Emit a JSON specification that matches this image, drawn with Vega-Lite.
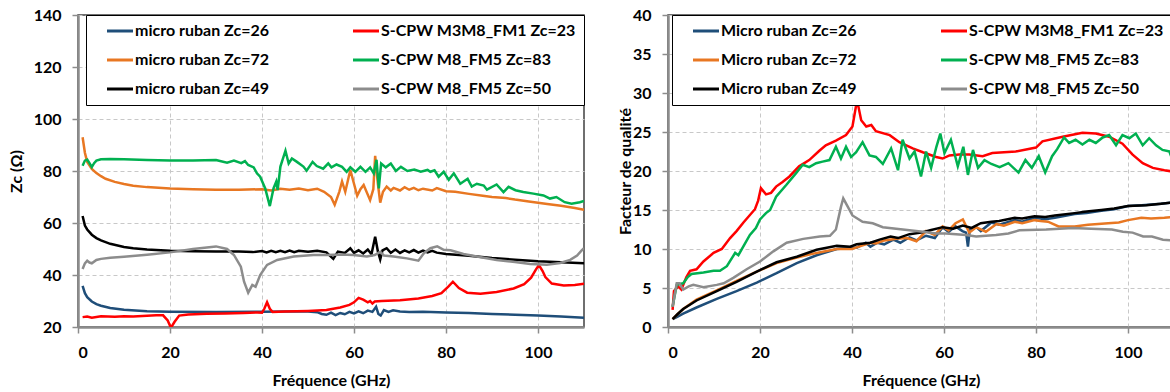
{
  "$schema": "https://vega.github.io/schema/vega-lite/v6.json",
  "padding": {"left": 7, "top": 6, "right": 0, "bottom": 0},
  "background": "white",
  "config": {
    "font": "Lato",
    "view": {"stroke": "#404040", "strokeWidth": 1.5},
    "concat": {"spacing": 30},
    "axis": {
      "labelFont": "Lato", "labelFontWeight": "bold", "labelFontSize": 16, "labelColor": "black",
      "titleFont": "Lato", "titleFontWeight": "bold", "titleFontSize": 16, "titleColor": "black",
      "domainColor": "#8c8c8c", "domainWidth": 2.5, "tickColor": "#8c8c8c", "tickWidth": 1.5, "tickSize": 6,
      "gridColor": "#c8c8c8", "gridDash": [4, 3], "gridWidth": 1, "labelPadding": 11
    },
    "legend": {
      "orient": "none", "columns": 2, "symbolType": "M-4,0L4,0", "symbolSize": 42.25, "symbolStrokeWidth": 3,
      "labelFont": "Lato", "labelFontSize": 16, "labelFontWeight": "bold", "labelColor": "black",
      "strokeColor": "black", "fillColor": "white", "padding": 8, "rowPadding": 13, "columnPadding": 71,
      "symbolOffset": 18, "labelOffset": 7, "labelLimit": 400
    }
  },
  "datasets": {
    "namesL": [
      {"k": "b", "s": "micro ruban Zc=26"}, {"k": "o", "s": "micro ruban Zc=72"}, {"k": "k", "s": "micro ruban Zc=49"},
      {"k": "r", "s": "S-CPW M3M8_FM1 Zc=23"}, {"k": "g", "s": "S-CPW M8_FM5 Zc=83"}, {"k": "y", "s": "S-CPW M8_FM5 Zc=50"}
    ],
    "namesR": [
      {"k": "b", "s": "Micro ruban Zc=26"}, {"k": "o", "s": "Micro ruban Zc=72"}, {"k": "k", "s": "Micro ruban Zc=49"},
      {"k": "r", "s": "S-CPW M3M8_FM1 Zc=23"}, {"k": "g", "s": "S-CPW M8_FM5 Zc=83"}, {"k": "y", "s": "S-CPW M8_FM5 Zc=50"}
    ],
    "left": [
      {"k":"b","f":1,"v":35.8},{"k":"b","f":1.5,"v":33},{"k":"b","f":2,"v":31.5},{"k":"b","f":3,"v":29.8},{"k":"b","f":4,"v":28.8},{"k":"b","f":5,"v":28.2},{"k":"b","f":7,"v":27.3},{"k":"b","f":10,"v":26.6},{"k":"b","f":15,"v":26.1},{"k":"b","f":20,"v":25.9},{"k":"b","f":30,"v":25.8},{"k":"b","f":40,"v":25.9},{"k":"b","f":45,"v":26},{"k":"b","f":50,"v":26},{"k":"b","f":52,"v":25.7},{"k":"b","f":53,"v":25},{"k":"b","f":54,"v":24.7},{"k":"b","f":55,"v":25.5},{"k":"b","f":56,"v":24.6},{"k":"b","f":57,"v":25.4},{"k":"b","f":58,"v":24.9},{"k":"b","f":59,"v":25.8},{"k":"b","f":60,"v":25.2},{"k":"b","f":61,"v":26},{"k":"b","f":62,"v":25.3},{"k":"b","f":63,"v":26.3},{"k":"b","f":64,"v":25.8},{"k":"b","f":64.8,"v":27.8},{"k":"b","f":65.3,"v":25},{"k":"b","f":65.8,"v":24.4},{"k":"b","f":66.5,"v":26.5},{"k":"b","f":67.5,"v":25.8},{"k":"b","f":68.5,"v":26.4},{"k":"b","f":70,"v":26},{"k":"b","f":72,"v":25.8},{"k":"b","f":75,"v":25.9},{"k":"b","f":80,"v":25.6},{"k":"b","f":85,"v":25.4},{"k":"b","f":90,"v":25},{"k":"b","f":95,"v":24.7},{"k":"b","f":100,"v":24.4},{"k":"b","f":105,"v":24},{"k":"b","f":110,"v":23.6},
      {"k":"o","f":1,"v":93},{"k":"o","f":1.5,"v":87},{"k":"o","f":2,"v":83.5},{"k":"o","f":3,"v":80.8},{"k":"o","f":4,"v":79.2},{"k":"o","f":5,"v":78},{"k":"o","f":6,"v":77},{"k":"o","f":8,"v":75.8},{"k":"o","f":10,"v":75},{"k":"o","f":12,"v":74.3},{"k":"o","f":15,"v":73.8},{"k":"o","f":20,"v":73.3},{"k":"o","f":25,"v":73},{"k":"o","f":30,"v":72.8},{"k":"o","f":35,"v":72.8},{"k":"o","f":40,"v":73},{"k":"o","f":42,"v":72.5},{"k":"o","f":44,"v":73.2},{"k":"o","f":46,"v":72.8},{"k":"o","f":48,"v":73.3},{"k":"o","f":50,"v":72.6},{"k":"o","f":52,"v":73.2},{"k":"o","f":53.5,"v":72},{"k":"o","f":55,"v":70},{"k":"o","f":55.8,"v":67},{"k":"o","f":56.8,"v":72},{"k":"o","f":57.4,"v":76},{"k":"o","f":58.1,"v":72},{"k":"o","f":59.2,"v":80.4},{"k":"o","f":60.7,"v":70.5},{"k":"o","f":61.4,"v":73},{"k":"o","f":62.1,"v":74.6},{"k":"o","f":63.5,"v":68.8},{"k":"o","f":64.2,"v":73},{"k":"o","f":64.6,"v":85.8},{"k":"o","f":65.2,"v":75},{"k":"o","f":65.7,"v":67.8},{"k":"o","f":66.3,"v":72},{"k":"o","f":67.1,"v":74},{"k":"o","f":68,"v":72.5},{"k":"o","f":68.6,"v":73.5},{"k":"o","f":70,"v":72.5},{"k":"o","f":71,"v":73.8},{"k":"o","f":72,"v":72.8},{"k":"o","f":73,"v":73.5},{"k":"o","f":74,"v":72.6},{"k":"o","f":75,"v":73.2},{"k":"o","f":77,"v":72.5},{"k":"o","f":78,"v":73.4},{"k":"o","f":80,"v":72.2},{"k":"o","f":82,"v":72},{"k":"o","f":85,"v":71.2},{"k":"o","f":88,"v":70.5},{"k":"o","f":90,"v":70},{"k":"o","f":93,"v":69.6},{"k":"o","f":95,"v":69},{"k":"o","f":98,"v":68.3},{"k":"o","f":100,"v":67.8},{"k":"o","f":102,"v":67.3},{"k":"o","f":105,"v":66.6},{"k":"o","f":108,"v":65.8},{"k":"o","f":110,"v":65.1},
      {"k":"k","f":1,"v":62.7},{"k":"k","f":1.5,"v":59},{"k":"k","f":2,"v":57.5},{"k":"k","f":3,"v":55.5},{"k":"k","f":4,"v":54.2},{"k":"k","f":5,"v":53.3},{"k":"k","f":7,"v":52},{"k":"k","f":10,"v":50.8},{"k":"k","f":12,"v":50.3},{"k":"k","f":15,"v":49.8},{"k":"k","f":20,"v":49.3},{"k":"k","f":25,"v":49.1},{"k":"k","f":30,"v":49},{"k":"k","f":35,"v":49},{"k":"k","f":38,"v":48.8},{"k":"k","f":40,"v":49.2},{"k":"k","f":41,"v":48.7},{"k":"k","f":42,"v":49.3},{"k":"k","f":43,"v":48.8},{"k":"k","f":44,"v":49.3},{"k":"k","f":45,"v":48.8},{"k":"k","f":46,"v":49.4},{"k":"k","f":47,"v":48.8},{"k":"k","f":48,"v":49.3},{"k":"k","f":50,"v":48.9},{"k":"k","f":52,"v":49.3},{"k":"k","f":54,"v":48.7},{"k":"k","f":55.5,"v":46.2},{"k":"k","f":56.5,"v":49},{"k":"k","f":58,"v":48.5},{"k":"k","f":59.2,"v":50.3},{"k":"k","f":60,"v":48.5},{"k":"k","f":61,"v":49.5},{"k":"k","f":62,"v":48.3},{"k":"k","f":63,"v":49.8},{"k":"k","f":63.8,"v":48},{"k":"k","f":64.6,"v":54.7},{"k":"k","f":65.2,"v":49},{"k":"k","f":65.7,"v":46},{"k":"k","f":66.2,"v":49.5},{"k":"k","f":67.1,"v":50.3},{"k":"k","f":68,"v":48.5},{"k":"k","f":69,"v":49.8},{"k":"k","f":70,"v":48.5},{"k":"k","f":71,"v":49.5},{"k":"k","f":72,"v":48.7},{"k":"k","f":73,"v":49.6},{"k":"k","f":74,"v":48.6},{"k":"k","f":75,"v":49.4},{"k":"k","f":76,"v":48.7},{"k":"k","f":77,"v":49.3},{"k":"k","f":78,"v":48.6},{"k":"k","f":80,"v":48.1},{"k":"k","f":85,"v":47.4},{"k":"k","f":90,"v":46.5},{"k":"k","f":95,"v":45.9},{"k":"k","f":100,"v":45.3},{"k":"k","f":105,"v":44.9},{"k":"k","f":110,"v":44.5},
      {"k":"r","f":1,"v":23.8},{"k":"r","f":2,"v":24},{"k":"r","f":3,"v":23.6},{"k":"r","f":5,"v":24.1},{"k":"r","f":8,"v":23.9},{"k":"r","f":10,"v":24.1},{"k":"r","f":12,"v":24},{"k":"r","f":15,"v":24.3},{"k":"r","f":17,"v":24.5},{"k":"r","f":18.5,"v":24.5},{"k":"r","f":19.5,"v":22.5},{"k":"r","f":20.2,"v":19.7},{"k":"r","f":21,"v":22},{"k":"r","f":22,"v":24.4},{"k":"r","f":24,"v":24.8},{"k":"r","f":28,"v":25.1},{"k":"r","f":32,"v":25.2},{"k":"r","f":36,"v":25.4},{"k":"r","f":39,"v":25.6},{"k":"r","f":40,"v":25.5},{"k":"r","f":40.5,"v":27},{"k":"r","f":41.1,"v":29.5},{"k":"r","f":41.7,"v":27},{"k":"r","f":42.3,"v":25.8},{"k":"r","f":45,"v":26},{"k":"r","f":50,"v":26.2},{"k":"r","f":54,"v":26.5},{"k":"r","f":57,"v":27.5},{"k":"r","f":59,"v":28.5},{"k":"r","f":60,"v":29.5},{"k":"r","f":61,"v":31.2},{"k":"r","f":62,"v":30.5},{"k":"r","f":63,"v":29.5},{"k":"r","f":63.5,"v":30},{"k":"r","f":64,"v":29},{"k":"r","f":64.5,"v":29.8},{"k":"r","f":66,"v":30},{"k":"r","f":70,"v":30.3},{"k":"r","f":74,"v":31},{"k":"r","f":77,"v":31.9},{"k":"r","f":79,"v":33},{"k":"r","f":80.5,"v":35.5},{"k":"r","f":81.5,"v":37.4},{"k":"r","f":82.8,"v":35},{"k":"r","f":84.6,"v":33.2},{"k":"r","f":87.5,"v":32.8},{"k":"r","f":91,"v":33.5},{"k":"r","f":94.7,"v":34.8},{"k":"r","f":97,"v":36.5},{"k":"r","f":98.5,"v":39},{"k":"r","f":99.5,"v":42},{"k":"r","f":100.2,"v":43.8},{"k":"r","f":101,"v":41.5},{"k":"r","f":101.6,"v":39.2},{"k":"r","f":103,"v":36.7},{"k":"r","f":105.6,"v":36},{"k":"r","f":108,"v":36.2},{"k":"r","f":110,"v":36.6},
      {"k":"g","f":1,"v":82},{"k":"g","f":1.5,"v":84},{"k":"g","f":2,"v":84.4},{"k":"g","f":2.5,"v":83},{"k":"g","f":3,"v":81.5},{"k":"g","f":3.5,"v":83},{"k":"g","f":4,"v":84},{"k":"g","f":5,"v":84.5},{"k":"g","f":7,"v":84.6},{"k":"g","f":10,"v":84.5},{"k":"g","f":15,"v":84.2},{"k":"g","f":20,"v":84},{"k":"g","f":25,"v":84},{"k":"g","f":30,"v":84.2},{"k":"g","f":32.4,"v":83.2},{"k":"g","f":33.9,"v":84},{"k":"g","f":35.5,"v":83},{"k":"g","f":36.3,"v":83.8},{"k":"g","f":37,"v":82.3},{"k":"g","f":38.2,"v":81.4},{"k":"g","f":38.9,"v":79.1},{"k":"g","f":39.6,"v":77.8},{"k":"g","f":40.7,"v":73.3},{"k":"g","f":41.7,"v":66.5},{"k":"g","f":42.5,"v":73.3},{"k":"g","f":43.1,"v":75.9},{"k":"g","f":43.4,"v":72.7},{"k":"g","f":44,"v":81.7},{"k":"g","f":45.1,"v":87.8},{"k":"g","f":45.8,"v":82.9},{"k":"g","f":46.5,"v":84.8},{"k":"g","f":47.6,"v":83.5},{"k":"g","f":49,"v":81.7},{"k":"g","f":49.7,"v":80.1},{"k":"g","f":51,"v":83.5},{"k":"g","f":51.9,"v":81.9},{"k":"g","f":53.3,"v":80.9},{"k":"g","f":54.4,"v":82.9},{"k":"g","f":55.1,"v":81.4},{"k":"g","f":56.2,"v":82.5},{"k":"g","f":57.4,"v":81.6},{"k":"g","f":58.4,"v":79.7},{"k":"g","f":59.2,"v":81.4},{"k":"g","f":60.3,"v":79.7},{"k":"g","f":61.4,"v":81.6},{"k":"g","f":62.5,"v":79.7},{"k":"g","f":63.5,"v":81.4},{"k":"g","f":64.3,"v":79.1},{"k":"g","f":64.9,"v":84.3},{"k":"g","f":65.4,"v":73.3},{"k":"g","f":65.9,"v":82.9},{"k":"g","f":66.9,"v":81.4},{"k":"g","f":68,"v":82.9},{"k":"g","f":69.1,"v":80},{"k":"g","f":70.2,"v":81.6},{"k":"g","f":71.6,"v":80},{"k":"g","f":73.1,"v":80.6},{"k":"g","f":74.5,"v":79.7},{"k":"g","f":76,"v":80.4},{"k":"g","f":76.6,"v":79.7},{"k":"g","f":77.5,"v":80.3},{"k":"g","f":78.4,"v":77.8},{"k":"g","f":79.5,"v":79.7},{"k":"g","f":80.6,"v":76.6},{"k":"g","f":81.7,"v":79.1},{"k":"g","f":83.1,"v":75.1},{"k":"g","f":84.7,"v":77},{"k":"g","f":85.6,"v":74},{"k":"g","f":86.7,"v":75.1},{"k":"g","f":88.2,"v":74.4},{"k":"g","f":88.9,"v":72.8},{"k":"g","f":91,"v":74.8},{"k":"g","f":92.5,"v":71.9},{"k":"g","f":93.6,"v":73.9},{"k":"g","f":95.1,"v":72.6},{"k":"g","f":96.8,"v":71.9},{"k":"g","f":99,"v":71.3},{"k":"g","f":101.2,"v":70.6},{"k":"g","f":102.6,"v":69.4},{"k":"g","f":104,"v":70},{"k":"g","f":105.8,"v":68},{"k":"g","f":107.3,"v":67.4},{"k":"g","f":109.1,"v":68},{"k":"g","f":110,"v":68.5},
      {"k":"y","f":1,"v":42.3},{"k":"y","f":1.5,"v":44.5},{"k":"y","f":2,"v":45.5},{"k":"y","f":2.5,"v":44.8},{"k":"y","f":3,"v":44.5},{"k":"y","f":4,"v":45.8},{"k":"y","f":5,"v":46.2},{"k":"y","f":7,"v":46.6},{"k":"y","f":10,"v":47},{"k":"y","f":15,"v":47.8},{"k":"y","f":20,"v":48.7},{"k":"y","f":25,"v":50},{"k":"y","f":28,"v":50.6},{"k":"y","f":30,"v":51},{"k":"y","f":32.4,"v":50},{"k":"y","f":33.9,"v":47.7},{"k":"y","f":35.4,"v":43.2},{"k":"y","f":36.1,"v":37.4},{"k":"y","f":37,"v":33.2},{"k":"y","f":37.9,"v":36.2},{"k":"y","f":38.6,"v":35.5},{"k":"y","f":39.6,"v":40},{"k":"y","f":41.1,"v":43.9},{"k":"y","f":43.3,"v":45.8},{"k":"y","f":46.9,"v":47.1},{"k":"y","f":51.2,"v":47.7},{"k":"y","f":54.1,"v":47.7},{"k":"y","f":57,"v":47.9},{"k":"y","f":59.9,"v":47.7},{"k":"y","f":62.8,"v":47.1},{"k":"y","f":64.5,"v":47.7},{"k":"y","f":65.7,"v":48.9},{"k":"y","f":66.5,"v":47.5},{"k":"y","f":68.6,"v":47.1},{"k":"y","f":71.5,"v":46.4},{"k":"y","f":74,"v":45.5},{"k":"y","f":75.2,"v":48.4},{"k":"y","f":76.6,"v":50.3},{"k":"y","f":78.1,"v":51},{"k":"y","f":79.5,"v":49.7},{"k":"y","f":81,"v":49.5},{"k":"y","f":83.8,"v":48.1},{"k":"y","f":87,"v":47},{"k":"y","f":91,"v":45.8},{"k":"y","f":95,"v":45},{"k":"y","f":98.3,"v":44.2},{"k":"y","f":101.9,"v":43.9},{"k":"y","f":104.8,"v":44.6},{"k":"y","f":107,"v":45.8},{"k":"y","f":108.5,"v":47.5},{"k":"y","f":109.5,"v":49.5},{"k":"y","f":110,"v":50.3}
    ],
    "right": [
      {"k":"b","f":1,"v":1.0},{"k":"b","f":2,"v":1.3},{"k":"b","f":3.3,"v":1.7},{"k":"b","f":6.2,"v":2.5},{"k":"b","f":10.6,"v":3.6},{"k":"b","f":14.9,"v":4.6},{"k":"b","f":19.3,"v":5.7},{"k":"b","f":23.6,"v":6.9},{"k":"b","f":28,"v":8.2},{"k":"b","f":32.3,"v":9.2},{"k":"b","f":36.7,"v":10},{"k":"b","f":39,"v":10.1},{"k":"b","f":41.1,"v":10.2},{"k":"b","f":43,"v":10.8},{"k":"b","f":44,"v":10.3},{"k":"b","f":45.5,"v":10.8},{"k":"b","f":47,"v":10.6},{"k":"b","f":49,"v":11.2},{"k":"b","f":50.5,"v":10.8},{"k":"b","f":52.5,"v":11.5},{"k":"b","f":54,"v":11.1},{"k":"b","f":56.1,"v":11.7},{"k":"b","f":58,"v":11.4},{"k":"b","f":59.7,"v":12.8},{"k":"b","f":61,"v":12.2},{"k":"b","f":62.5,"v":12.9},{"k":"b","f":64,"v":12.3},{"k":"b","f":64.8,"v":12.1},{"k":"b","f":65.2,"v":10.3},{"k":"b","f":65.6,"v":12.5},{"k":"b","f":67,"v":12.8},{"k":"b","f":68,"v":12.3},{"k":"b","f":70.3,"v":13.4},{"k":"b","f":72,"v":13.1},{"k":"b","f":75.4,"v":13.7},{"k":"b","f":77,"v":13.5},{"k":"b","f":79.7,"v":14},{"k":"b","f":82,"v":13.8},{"k":"b","f":84.1,"v":14},{"k":"b","f":88.4,"v":14.5},{"k":"b","f":91,"v":14.6},{"k":"b","f":94.2,"v":14.9},{"k":"b","f":97,"v":15.1},{"k":"b","f":100,"v":15.5},{"k":"b","f":103,"v":15.6},{"k":"b","f":107.2,"v":15.8},{"k":"b","f":110,"v":16},
      {"k":"o","f":1,"v":1.0},{"k":"o","f":2,"v":1.6},{"k":"o","f":3.3,"v":2.3},{"k":"o","f":6.2,"v":3.5},{"k":"o","f":10.6,"v":4.7},{"k":"o","f":14.9,"v":5.9},{"k":"o","f":19.3,"v":7.1},{"k":"o","f":23.6,"v":8.2},{"k":"o","f":28,"v":8.9},{"k":"o","f":32.3,"v":9.5},{"k":"o","f":36.7,"v":10},{"k":"o","f":40,"v":10},{"k":"o","f":42,"v":10.4},{"k":"o","f":44,"v":10.8},{"k":"o","f":45.2,"v":10.7},{"k":"o","f":47,"v":11.1},{"k":"o","f":49.6,"v":11.3},{"k":"o","f":52,"v":11.4},{"k":"o","f":54,"v":11},{"k":"o","f":56.1,"v":12.3},{"k":"o","f":58,"v":11.8},{"k":"o","f":59.7,"v":12.9},{"k":"o","f":61,"v":12.4},{"k":"o","f":62.5,"v":13.3},{"k":"o","f":64.1,"v":13.8},{"k":"o","f":65.5,"v":12.1},{"k":"o","f":67,"v":12.8},{"k":"o","f":69.1,"v":12.2},{"k":"o","f":71.4,"v":13.2},{"k":"o","f":73,"v":13},{"k":"o","f":75.4,"v":13.5},{"k":"o","f":77,"v":13.3},{"k":"o","f":79.7,"v":13.7},{"k":"o","f":81,"v":13.6},{"k":"o","f":82.6,"v":13.5},{"k":"o","f":84.9,"v":12.9},{"k":"o","f":88.4,"v":12.9},{"k":"o","f":91.3,"v":13.1},{"k":"o","f":95.7,"v":13.3},{"k":"o","f":98,"v":13.4},{"k":"o","f":100,"v":13.7},{"k":"o","f":102.9,"v":14},{"k":"o","f":105,"v":13.9},{"k":"o","f":107.9,"v":14},{"k":"o","f":110,"v":14.1},
      {"k":"k","f":1,"v":1.0},{"k":"k","f":2,"v":1.6},{"k":"k","f":3.3,"v":2.3},{"k":"k","f":6.2,"v":3.4},{"k":"k","f":10.6,"v":4.6},{"k":"k","f":14.9,"v":5.8},{"k":"k","f":19.3,"v":7.1},{"k":"k","f":23.6,"v":8.3},{"k":"k","f":28,"v":9},{"k":"k","f":32.3,"v":9.9},{"k":"k","f":36.7,"v":10.4},{"k":"k","f":39.6,"v":10.3},{"k":"k","f":41,"v":10.6},{"k":"k","f":44,"v":10.8},{"k":"k","f":46,"v":11.2},{"k":"k","f":48.4,"v":11.6},{"k":"k","f":50,"v":11.4},{"k":"k","f":52.5,"v":11.9},{"k":"k","f":55,"v":12.1},{"k":"k","f":57,"v":12.4},{"k":"k","f":59.7,"v":12.8},{"k":"k","f":62,"v":12.6},{"k":"k","f":64.1,"v":13},{"k":"k","f":66,"v":12.7},{"k":"k","f":68,"v":13.3},{"k":"k","f":70.3,"v":13.5},{"k":"k","f":72,"v":13.6},{"k":"k","f":75.4,"v":14},{"k":"k","f":77,"v":13.9},{"k":"k","f":79.7,"v":14.2},{"k":"k","f":82,"v":14.1},{"k":"k","f":84.1,"v":14.3},{"k":"k","f":88.4,"v":14.6},{"k":"k","f":91,"v":14.8},{"k":"k","f":94.2,"v":15},{"k":"k","f":97,"v":15.2},{"k":"k","f":100,"v":15.5},{"k":"k","f":104,"v":15.6},{"k":"k","f":107.2,"v":15.8},{"k":"k","f":110,"v":16},
      {"k":"r","f":1,"v":2.2},{"k":"r","f":1.3,"v":4.6},{"k":"r","f":2.2,"v":5.2},{"k":"r","f":2.9,"v":4.8},{"k":"r","f":4,"v":6.4},{"k":"r","f":4.8,"v":7.2},{"k":"r","f":6.2,"v":7.4},{"k":"r","f":7.7,"v":8.4},{"k":"r","f":9.9,"v":9.5},{"k":"r","f":11.7,"v":10},{"k":"r","f":13.5,"v":11.4},{"k":"r","f":14.9,"v":12.3},{"k":"r","f":16.4,"v":13.4},{"k":"r","f":18.9,"v":15.1},{"k":"r","f":19.6,"v":16.2},{"k":"r","f":20.2,"v":17.8},{"k":"r","f":21.3,"v":17},{"k":"r","f":22.4,"v":17.2},{"k":"r","f":23.5,"v":18},{"k":"r","f":24.9,"v":18.6},{"k":"r","f":26.4,"v":19.3},{"k":"r","f":28.5,"v":20.6},{"k":"r","f":30.7,"v":21.4},{"k":"r","f":32.9,"v":22.6},{"k":"r","f":34.3,"v":23.3},{"k":"r","f":36.5,"v":23.9},{"k":"r","f":38.7,"v":24.6},{"k":"r","f":40.1,"v":25.7},{"k":"r","f":41.1,"v":29.1},{"k":"r","f":42,"v":26.5},{"k":"r","f":43.1,"v":25.7},{"k":"r","f":44.2,"v":25.9},{"k":"r","f":45.2,"v":25.1},{"k":"r","f":48.2,"v":24.6},{"k":"r","f":50.3,"v":23.7},{"k":"r","f":53.2,"v":22.9},{"k":"r","f":55.4,"v":22.4},{"k":"r","f":58.3,"v":21.8},{"k":"r","f":59.7,"v":21.6},{"k":"r","f":61.2,"v":22},{"k":"r","f":63.3,"v":22.1},{"k":"r","f":65.5,"v":22.1},{"k":"r","f":68.4,"v":21.9},{"k":"r","f":70.5,"v":22.3},{"k":"r","f":75.6,"v":22.5},{"k":"r","f":80,"v":23},{"k":"r","f":81.4,"v":23.8},{"k":"r","f":85.8,"v":24.4},{"k":"r","f":90.1,"v":24.9},{"k":"r","f":93,"v":24.8},{"k":"r","f":95.9,"v":24.4},{"k":"r","f":98.8,"v":23.5},{"k":"r","f":101,"v":22.1},{"k":"r","f":103.2,"v":21},{"k":"r","f":105.4,"v":20.4},{"k":"r","f":107.9,"v":20.1},{"k":"r","f":110,"v":19.9},
      {"k":"g","f":1,"v":2.6},{"k":"g","f":1.9,"v":5.4},{"k":"g","f":3.3,"v":5.6},{"k":"g","f":4.3,"v":6.4},{"k":"g","f":5.1,"v":6.8},{"k":"g","f":7.7,"v":7},{"k":"g","f":9.9,"v":7.2},{"k":"g","f":11.3,"v":7.2},{"k":"g","f":12.8,"v":7.8},{"k":"g","f":14.6,"v":9.5},{"k":"g","f":15.3,"v":9.2},{"k":"g","f":17.8,"v":11.8},{"k":"g","f":19.1,"v":12.7},{"k":"g","f":20,"v":13.8},{"k":"g","f":21.3,"v":14.6},{"k":"g","f":22.2,"v":15},{"k":"g","f":23.5,"v":16.7},{"k":"g","f":25.7,"v":18.2},{"k":"g","f":27.8,"v":19.7},{"k":"g","f":29.3,"v":20.8},{"k":"g","f":30.7,"v":20.5},{"k":"g","f":32.2,"v":21},{"k":"g","f":33.6,"v":21.2},{"k":"g","f":35.1,"v":21.4},{"k":"g","f":36.5,"v":23.1},{"k":"g","f":37.6,"v":21.6},{"k":"g","f":38.7,"v":23.1},{"k":"g","f":39.8,"v":21.8},{"k":"g","f":40.9,"v":22.4},{"k":"g","f":42.3,"v":23.7},{"k":"g","f":43.8,"v":22},{"k":"g","f":45.2,"v":21.8},{"k":"g","f":46.7,"v":20.9},{"k":"g","f":48.5,"v":22.9},{"k":"g","f":50,"v":20.1},{"k":"g","f":51,"v":24},{"k":"g","f":52.5,"v":21.6},{"k":"g","f":53.6,"v":22.5},{"k":"g","f":55,"v":19.3},{"k":"g","f":56.1,"v":22.5},{"k":"g","f":57.2,"v":20.4},{"k":"g","f":58.3,"v":23},{"k":"g","f":59.2,"v":24.8},{"k":"g","f":60.1,"v":22.3},{"k":"g","f":61.5,"v":24},{"k":"g","f":63,"v":20.6},{"k":"g","f":64.2,"v":23.1},{"k":"g","f":65.2,"v":19.5},{"k":"g","f":66.3,"v":22.7},{"k":"g","f":67.4,"v":20.4},{"k":"g","f":68.8,"v":21.4},{"k":"g","f":70.3,"v":20.9},{"k":"g","f":72.1,"v":20.5},{"k":"g","f":74,"v":21},{"k":"g","f":76.2,"v":19.8},{"k":"g","f":77.7,"v":21.4},{"k":"g","f":79.1,"v":20.4},{"k":"g","f":80.6,"v":21.9},{"k":"g","f":82,"v":19.8},{"k":"g","f":83.5,"v":21.9},{"k":"g","f":84.6,"v":22.8},{"k":"g","f":86.1,"v":24.3},{"k":"g","f":87.2,"v":23.6},{"k":"g","f":88.6,"v":24},{"k":"g","f":90.1,"v":23.4},{"k":"g","f":91.6,"v":24},{"k":"g","f":93,"v":23.6},{"k":"g","f":94.5,"v":24.3},{"k":"g","f":95.9,"v":24.6},{"k":"g","f":97.4,"v":23.3},{"k":"g","f":98.8,"v":24.6},{"k":"g","f":100.3,"v":24.2},{"k":"g","f":101.7,"v":24.8},{"k":"g","f":103.2,"v":23.3},{"k":"g","f":104.6,"v":24.2},{"k":"g","f":106.1,"v":23.3},{"k":"g","f":107.5,"v":22.7},{"k":"g","f":109,"v":22.5},{"k":"g","f":109.7,"v":21.4},{"k":"g","f":110,"v":21.3},
      {"k":"y","f":1,"v":2.6},{"k":"y","f":1.9,"v":5.6},{"k":"y","f":2.5,"v":5.6},{"k":"y","f":3.3,"v":4.8},{"k":"y","f":4.5,"v":5.2},{"k":"y","f":5.5,"v":5.4},{"k":"y","f":7.7,"v":5.1},{"k":"y","f":10.6,"v":5.4},{"k":"y","f":12.1,"v":5.6},{"k":"y","f":14.2,"v":6.3},{"k":"y","f":17.1,"v":7.4},{"k":"y","f":20,"v":8.4},{"k":"y","f":22.9,"v":9.7},{"k":"y","f":25.8,"v":10.8},{"k":"y","f":29.4,"v":11.3},{"k":"y","f":33,"v":11.6},{"k":"y","f":35.2,"v":11.7},{"k":"y","f":36.5,"v":12.5},{"k":"y","f":37.6,"v":15.4},{"k":"y","f":38.1,"v":16.5},{"k":"y","f":39.1,"v":15.4},{"k":"y","f":40.1,"v":14.3},{"k":"y","f":42.3,"v":13.5},{"k":"y","f":44.5,"v":13.3},{"k":"y","f":46.7,"v":12.8},{"k":"y","f":49.6,"v":12.6},{"k":"y","f":52.5,"v":12.4},{"k":"y","f":55.4,"v":12.2},{"k":"y","f":58.3,"v":12},{"k":"y","f":60.4,"v":12},{"k":"y","f":64.8,"v":11.8},{"k":"y","f":67,"v":11.6},{"k":"y","f":71.3,"v":11.8},{"k":"y","f":74,"v":12},{"k":"y","f":76.4,"v":12.4},{"k":"y","f":82.2,"v":12.5},{"k":"y","f":88,"v":12.7},{"k":"y","f":92,"v":12.6},{"k":"y","f":96.5,"v":12.5},{"k":"y","f":98.9,"v":12.2},{"k":"y","f":101,"v":12.1},{"k":"y","f":103.3,"v":11.6},{"k":"y","f":105.2,"v":11.6},{"k":"y","f":107.6,"v":11.2},{"k":"y","f":110,"v":11.1}
    ]
  },
  "hconcat": [
    {
      "width": 506, "height": 312,
      "data": {"name": "left"},
      "transform": [{"lookup": "k", "from": {"data": {"name": "namesL"}, "key": "k", "fields": ["s"]}}],
      "mark": {"type": "line", "strokeWidth": 2.5, "clip": true},
      "encoding": {
        "x": {"field": "f", "type": "quantitative", "scale": {"domain": [0, 110], "nice": false},
              "axis": {"values": [0, 20, 40, 60, 80, 100], "title": "Fréquence (GHz)", "titlePadding": 12}},
        "y": {"field": "v", "type": "quantitative", "scale": {"domain": [20, 140], "nice": false},
              "axis": {"values": [20, 40, 60, 80, 100, 120, 140], "title": "Zc (Ω)", "titlePadding": 9}},
        "color": {"field": "s", "type": "nominal",
                  "scale": {"domain": ["micro ruban Zc=26", "micro ruban Zc=72", "micro ruban Zc=49", "S-CPW M3M8_FM1 Zc=23", "S-CPW M8_FM5 Zc=83", "S-CPW M8_FM5 Zc=50"],
                            "range": ["#1F4E79", "#E87722", "#000000", "#FF0000", "#00B050", "#8C8C8C"]},
                  "legend": {"title": null, "legendX": 8, "legendY": 0}}
      }
    },
    {
      "width": 506, "height": 312,
      "data": {"name": "right"},
      "transform": [{"lookup": "k", "from": {"data": {"name": "namesR"}, "key": "k", "fields": ["s"]}}],
      "mark": {"type": "line", "strokeWidth": 2.5, "clip": true},
      "encoding": {
        "x": {"field": "f", "type": "quantitative", "scale": {"domain": [0, 110], "nice": false},
              "axis": {"values": [0, 20, 40, 60, 80, 100], "title": "Fréquence (GHz)", "titlePadding": 12}},
        "y": {"field": "v", "type": "quantitative", "scale": {"domain": [0, 40], "nice": false},
              "axis": {"values": [0, 5, 10, 15, 20, 25, 30, 35, 40], "title": "Facteur de qualité", "titlePadding": -1}},
        "color": {"field": "s", "type": "nominal",
                  "scale": {"domain": ["Micro ruban Zc=26", "Micro ruban Zc=72", "Micro ruban Zc=49", "S-CPW M3M8_FM1 Zc=23", "S-CPW M8_FM5 Zc=83", "S-CPW M8_FM5 Zc=50"],
                            "range": ["#1F4E79", "#E87722", "#000000", "#FF0000", "#00B050", "#8C8C8C"]},
                  "legend": {"title": null, "legendX": 4, "legendY": 0}}
      }
    }
  ],
  "resolve": {"scale": {"color": "independent"}}
}
